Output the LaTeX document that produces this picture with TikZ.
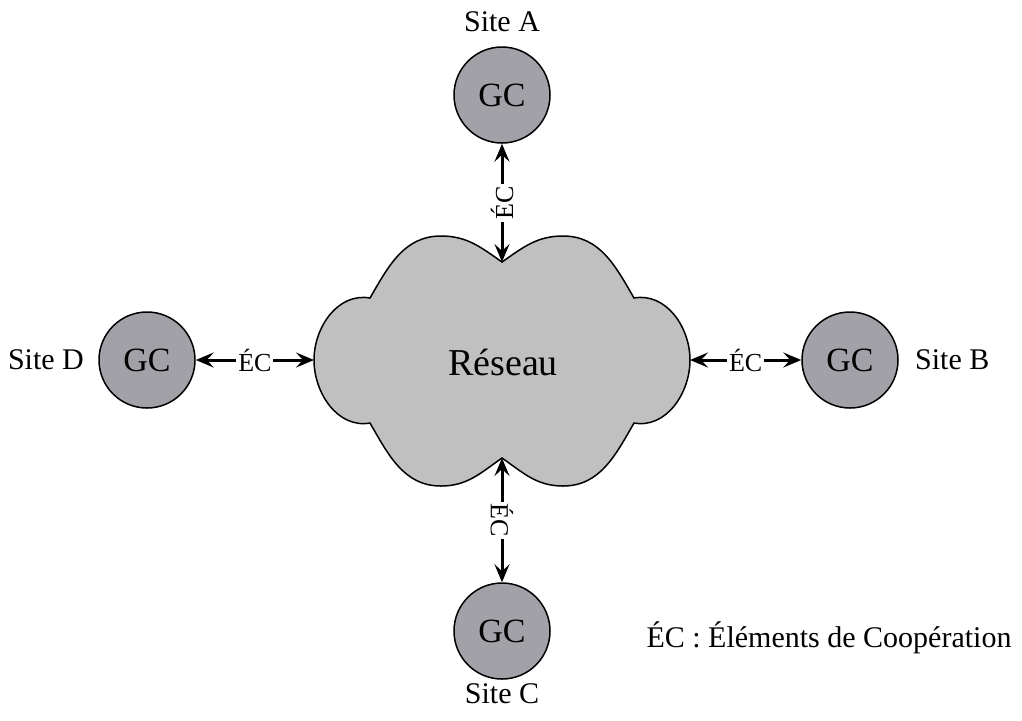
\documentclass[tikz,border=0pt]{standalone}
\usepackage{fontspec}
\setmainfont{Liberation Serif}
\usetikzlibrary{arrows.meta, positioning}
\definecolor{gcfill}{HTML}{A2A1A8}
\definecolor{netfill}{HTML}{C0C0C0}
\tikzset{
  gc/.style      = {circle, draw=black, fill=gcfill, line width=0.75pt,
                    minimum size=48pt, inner sep=0pt, font=\fontsize{17}{20}\selectfont},
  site/.style    = {font=\fontsize{15}{18}\selectfont, inner sep=0pt},
  netcloud/.style= {draw=black, fill=netfill, line width=0.75pt},
  eclink/.style  = {{Stealth[length=9pt, width=7.5pt, inset=3.5pt]}-{Stealth[length=9pt, width=7.5pt, inset=3.5pt]},
                    line width=1.5pt},
  eclbl/.style   = {fill=white, inner sep=1pt, font=\fontsize{13}{15}\selectfont},
}
\begin{document}
\begin{tikzpicture}[x=0.5pt, y=0.5pt]
  \useasboundingbox (0,0) rectangle (1022,-720);
  % ---- network cloud ----
  \coordinate (nN) at (502,-262);
  \coordinate (nE) at (690,-360);
  \coordinate (nS) at (502,-458);
  \coordinate (nW) at (314,-360);
  \draw[netcloud] (nN) to[out=35,in=180] (563,-236) to[out=0,in=120] (634,-298)
    to[out=10,in=90] (nE) to[out=-90,in=-10] (634,-423)
    to[out=-120,in=0] (563,-486) to[out=180,in=-35] (nS)
    to[out=-145,in=0] (441,-486) to[out=180,in=-60] (370,-423)
    to[out=190,in=-90] (nW) to[out=90,in=170] (370,-298)
    to[out=60,in=180] (441,-236) to[out=0,in=145] (nN) -- cycle;
  \node[font=\fontsize{19}{22}\selectfont] (reseau) at (503,-362) {Réseau};
  % ---- sites ----
  \node[gc] (gcA) at (502,-95) {GC};
  \node[gc] (gcB) at (850,-360) {GC};
  \node[gc] (gcC) at (502,-631) {GC};
  \node[gc] (gcD) at (147,-360) {GC};
  \node[site, above=7pt of gcA] (siteA) {Site A};
  \node[site, right=8pt of gcB] (siteB) {Site B};
  \node[site, below=1.5pt of gcC] (siteC) {Site C};
  \node[site, left=7pt of gcD] (siteD) {Site D};
  % ---- cooperation links ----
  \draw[eclink] (gcA) -- node[eclbl, rotate=90] {ÉC} (nN);
  \draw[eclink] (nE) -- node[eclbl] {ÉC} (gcB);
  \draw[eclink] (nS) -- node[eclbl, rotate=-90] {ÉC} (gcC);
  \draw[eclink] (gcD) -- node[eclbl] {ÉC} (nW);
  \node[site] (legend) at (829,-638) {ÉC : Éléments de Coopération};
\end{tikzpicture}
\end{document}
